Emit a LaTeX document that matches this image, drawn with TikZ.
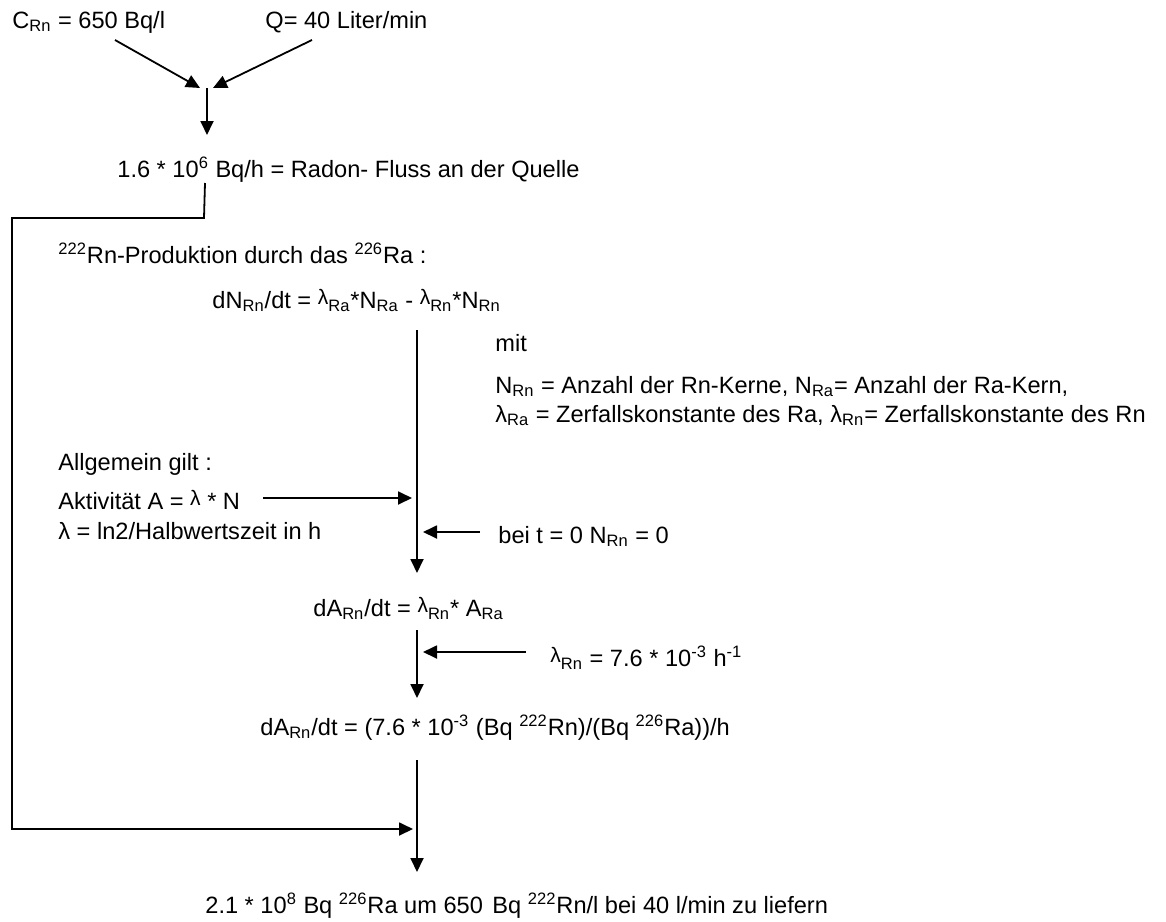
\documentclass[tikz,border=0pt]{standalone}
\usepackage{fontspec}
\setmainfont{Liberation Sans}
\usetikzlibrary{arrows.meta,positioning}

\newcommand{\sbs}[1]{\textsubscript{#1}}
\newcommand{\sps}[1]{\textsuperscript{#1}}
\newcommand{\lamup}{\raisebox{0.25ex}{\fontsize{10.5}{12}\selectfont λ}}

\begin{document}
\begin{tikzpicture}[x=0.5pt, y=-0.5pt,
        txt/.style={anchor=base west, inner sep=0pt, font=\fontsize{11.8}{14}\selectfont},
        arr/.style={-{Triangle[length=7pt, width=6.5pt]}, line width=0.9pt}
    ]
    \useasboundingbox (0,0) rectangle (1166,921);
    % inputs
    \node[txt] (crn) at (12,28) {C\sbs{Rn} = 650 Bq/l};
    \node[txt] (qsrc) at (265,28) {Q= 40 Liter/min};
    \node[txt] (flow) at (117,177) {1.6 * 10\sps{6} Bq/h = Radon- Fluss an der Quelle};
    % production
    \node[txt] (prod) at (58,263) {\sps{222}Rn-Produktion durch das \sps{226}Ra :};
    \node[txt] (dndt) at (212,308) {dN\sbs{Rn}/dt = \lamup\sbs{Ra}*N\sbs{Ra} - \lamup\sbs{Rn}*N\sbs{Rn}};
    \node[txt] (mit) at (495,351) {mit};
    \node[txt] (defa) at (495,393) {N\sbs{Rn} = Anzahl der Rn-Kerne, N\sbs{Ra}= Anzahl der Ra-Kern,};
    \node[txt] (defb) at (495,422) {λ\sbs{Ra} = Zerfallskonstante des Ra, λ\sbs{Rn}= Zerfallskonstante des Rn};
    % general relations
    \node[txt] (allg) at (58,470) {Allgemein gilt :};
    \node[txt] (akt) at (58,509) {Aktivität A = \lamup{} * N};
    \node[txt] (lam) at (58,539) {λ = ln2/Halbwertszeit in h};
    \node[txt] (bei) at (498,543) {bei t = 0 N\sbs{Rn} = 0};
    % activity
    \node[txt] (dadt) at (313,616) {dA\sbs{Rn}/dt = \lamup\sbs{Rn}* A\sbs{Ra}};
    \node[txt] (lamrn) at (550,666) {\lamup\sbs{Rn} = 7.6 * 10\sps{-3} h\sps{-1}};
    \node[txt] (dadtb) at (260,735) {dA\sbs{Rn}/dt = (7.6 * 10\sps{-3} (Bq \sps{222}Rn)/(Bq \sps{226}Ra))/h};
    \node[txt] (res) at (205,913) {2.1 * 10\sps{8} Bq \sps{226}Ra um 650\kern1.5pt{} Bq \sps{222}Rn/l bei 40 l/min zu liefern};

    % connector points
    \coordinate (ca) at (115,40);
    \coordinate (cb) at (200,88);
    \coordinate (qa) at (312,40);
    \coordinate (qb) at (213,88);
    \coordinate (ma) at (207,88);
    \coordinate (mb) at (207,135);
    \coordinate (fa) at (205,183);
    \coordinate (fb) at (204,218);
    \coordinate (fc) at (12,218);
    \coordinate (fd) at (12,829);
    \coordinate (fe) at (413,829);
    \coordinate (v1a) at (417,330);
    \coordinate (v1b) at (417,573);
    \coordinate (v2a) at (417,630);
    \coordinate (v2b) at (417,698);
    \coordinate (v3a) at (417,760);
    \coordinate (v3b) at (417,872);
    \coordinate (aa) at (263,498);
    \coordinate (ab) at (412,498);
    \coordinate (ba) at (480,532);
    \coordinate (bb) at (423,532);
    \coordinate (la) at (526,652);
    \coordinate (lb) at (423,652);

    \draw[arr] (ca) -- (cb);
    \draw[arr] (qa) -- (qb);
    \draw[arr] (ma) -- (mb);
    \draw[arr] (fa) -- (fb) -- (fc) -- (fd) -- (fe);
    \draw[arr] (v1a) -- (v1b);
    \draw[arr] (v2a) -- (v2b);
    \draw[arr] (v3a) -- (v3b);
    \draw[arr] (aa) -- (ab);
    \draw[arr] (ba) -- (bb);
    \draw[arr] (la) -- (lb);
\end{tikzpicture}
\end{document}
